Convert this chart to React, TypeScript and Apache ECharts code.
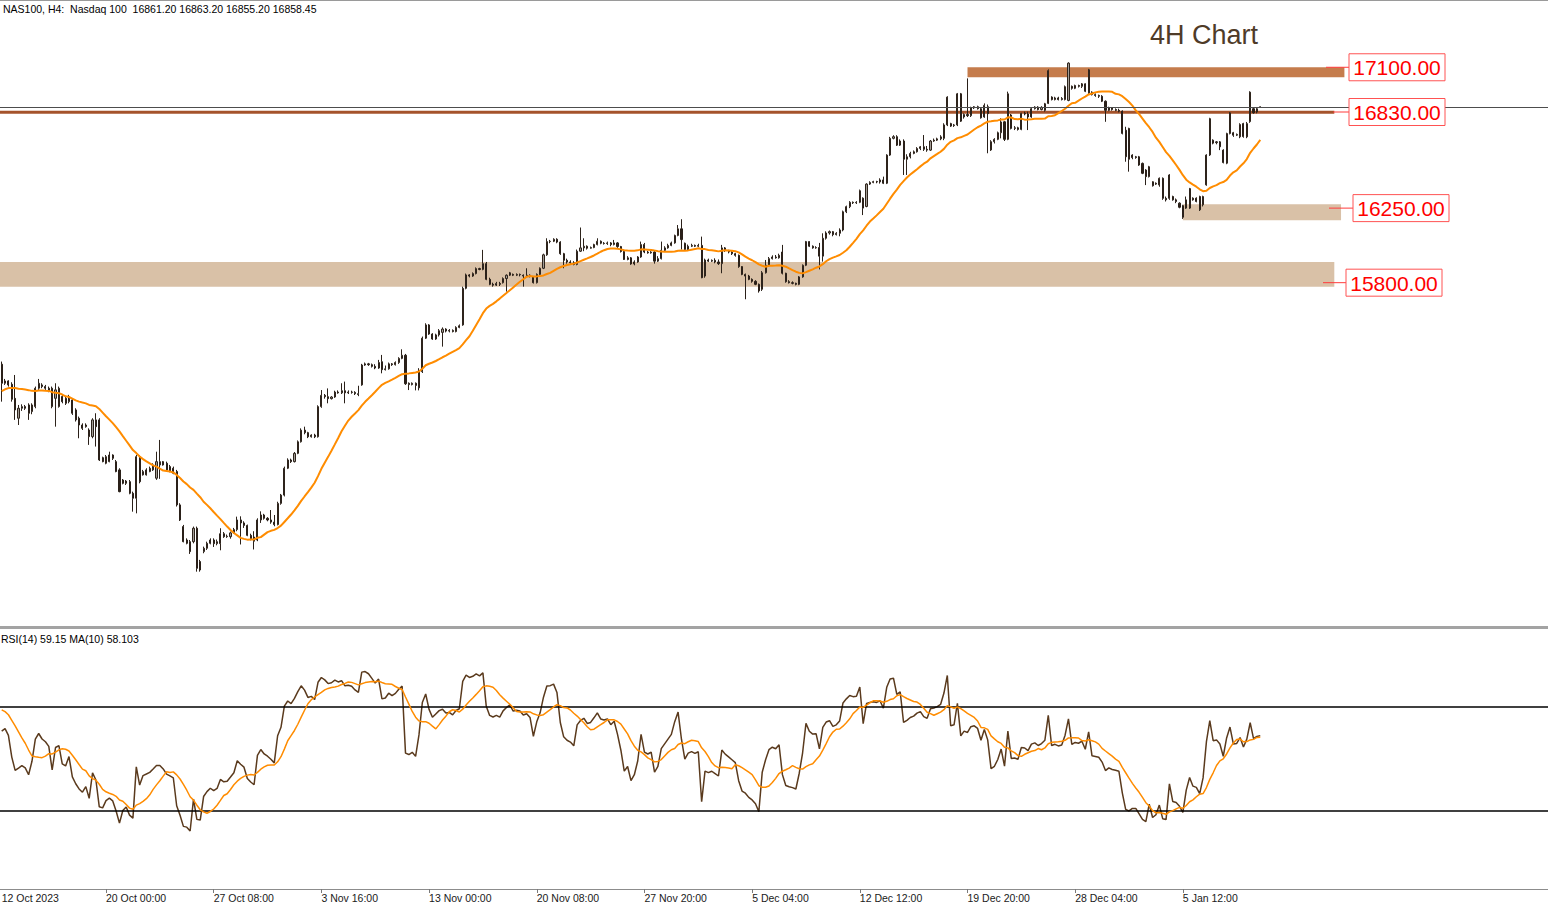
import React, { useEffect, useRef } from 'react';
import * as echarts from 'echarts';

// Closes before the first visible bar (only used to seed MA / RSI)
const priorCloses = [14780, 14740, 14700, 14690, 14850, 14930, 14960, 14930, 14990, 15010,
  15030, 15000, 15040, 15070, 15050, 15120, 15090, 15110, 15080, 15150,
  15170, 15130, 15180, 15200, 15160, 15210, 15230, 15200, 15250, 15290];

// NAS100 H4 candles: [open, close, low, high]
const candles: number[][] = [
  [15308,15193,15082,15324],[15193,15207,15183,15219],[15207,15183,15173,15211],[15187,15096,15082,15199],[15102,15032,14972,15243],
  [14982,15042,14941,15062],[15042,15052,15026,15066],[15052,15042,15032,15062],[15062,15012,14972,15072],[15022,15062,15006,15072],
  [15052,15163,15042,15173],[15163,15193,15153,15219],[15183,15173,15163,15193],[15173,15163,15153,15183],[15163,15147,15139,15173],
  [15163,15052,15042,15173],[15102,15153,14931,15193],[15052,15163,15046,15173],[15113,15082,15072,15123],[15102,15072,15062,15113],
  [15082,15113,15072,15123],[15092,15012,15002,15102],[15032,14972,14962,15042],[14982,14941,14861,14992],[14941,14921,14911,14951],
  [14931,14941,14925,14951],[14911,14871,14821,14921],[14871,14972,14861,14982],[14972,14931,14811,15012],[14972,14730,14724,14982],
  [14744,14720,14716,14750],[14710,14750,14704,14760],[14720,14760,14716,14780],[14760,14740,14730,14764],[14720,14660,14656,14730],
  [14670,14539,14535,14680],[14609,14589,14583,14615],[14589,14603,14579,14609],[14599,14529,14523,14609],[14529,14499,14418,14539],
  [14499,14750,14408,14760],[14750,14599,14589,14760],[14640,14660,14636,14670],[14640,14670,14636,14680],[14660,14680,14656,14690],
  [14670,14700,14664,14710],[14620,14720,14610,14780],[14700,14720,14616,14851],[14720,14700,14696,14724],[14710,14670,14664,14720],
  [14690,14660,14656,14700],[14680,14650,14644,14690],[14660,14459,14449,14670],[14459,14368,14362,14469],[14328,14237,14233,14338],
  [14247,14227,14221,14257],[14237,14177,14163,14247],[14237,14318,14227,14328],[14318,14076,14056,14328],[14117,14066,14056,14127],
  [14177,14197,14167,14207],[14197,14227,14187,14237],[14227,14247,14221,14257],
  [14247,14225,14205,14257],[14225,14237,14215,14250],[14225,14285,14185,14318],[14285,14267,14260,14295],[14267,14270,14260,14280],
  [14267,14290,14255,14298],[14290,14310,14285,14320],[14310,14368,14300,14388],[14368,14350,14220,14390],[14350,14335,14320,14360],
  [14335,14275,14270,14340],[14275,14255,14245,14285],[14265,14240,14190,14300],[14247,14368,14240,14378],[14368,14398,14350,14420],
  [14398,14378,14370,14405],[14378,14368,14360,14385],[14368,14355,14345,14428],[14355,14340,14330,14398],[14340,14468,14335,14478],
  [14468,14518,14460,14525],[14518,14680,14510,14690],[14680,14730,14675,14740],[14730,14720,14712,14738],[14720,14770,14715,14778],
  [14770,14840,14765,14848],[14840,14910,14835,14921],[14910,14895,14885,14931],[14895,14870,14862,14900],[14870,14880,14865,14885],
  [14880,14870,14862,14888],[14870,15052,14865,15060],[15052,15120,15045,15152],[15120,15112,15100,15128],[15112,15100,15072,15162],
  [15100,15110,15095,15115],[15110,15140,15105,15148],[15140,15135,15130,15150],[15135,15148,15128,15193],[15148,15135,15072,15203],
  [15135,15140,15128,15150],[15140,15138,15130,15148],[15138,15130,15122,15145],[15130,15125,15115,15178],[15183,15303,15178,15310],
  [15303,15310,15298,15318],[15310,15305,15298,15316],[15305,15295,15288,15312],[15295,15285,15278,15308],[15285,15318,15280,15334],
  [15323,15275,15253,15364],[15275,15280,15270,15300],[15280,15310,15275,15318],[15310,15305,15298,15315],[15305,15318,15300,15325],
  [15318,15343,15310,15350],[15343,15362,15338,15398],[15362,15190,15183,15370],[15193,15185,15152,15198],[15185,15193,15180,15198],
  [15193,15180,15150,15198],[15165,15263,15150,15284],
  [15263,15465,15255,15475],[15465,15545,15460,15555],[15545,15490,15485,15550],[15490,15460,15455,15495],[15460,15485,15455,15492],
  [15485,15510,15475,15520],[15500,15520,15414,15530],[15520,15508,15500,15525],[15508,15512,15500,15520],[15512,15505,15500,15518],
  [15505,15530,15500,15537],[15530,15540,15525,15548],[15545,15766,15540,15776],[15766,15847,15760,15855],[15847,15840,15832,15852],
  [15840,15855,15835,15862],[15855,15885,15850,15892],[15885,15880,15875,15890],[15880,15915,15875,15998],[15915,15820,15815,15925],
  [15820,15790,15785,15830],[15790,15785,15776,15800],[15785,15795,15780,15805],[15795,15790,15780,15805],[15800,15825,15795,15832],
  [15825,15845,15746,15850],[15845,15860,15840,15865],[15850,15845,15840,15855],[15845,15850,15840,15856],[15850,15848,15838,15855],
  [15845,15840,15776,15850],[15840,15845,15835,15887],[15845,15838,15832,15850],[15838,15800,15795,15840],[15800,15850,15795,15856],
  [15850,15887,15845,15892],[15887,15968,15882,15975],[15968,16048,15962,16068],[16048,16050,16038,16058],[16050,16062,16045,16068],
  [16062,16045,16038,16068],[16045,15975,15968,16050],[15975,15935,15887,15980],[15935,15925,15915,15945],[15925,15920,15915,15935],
  [15920,15910,15905,15930],[15910,15990,15905,16000],[15990,16010,15985,16133],[16010,16020,15990,16068],[16020,16008,16000,16025],
  [16008,16012,16005,16018],[16012,16030,16008,16035],[16030,16050,16025,16068],[16050,16038,16032,16055],[16038,16036,16030,16045],
  [16036,16040,16028,16048],[16040,16030,16020,16045],[16030,16040,16025,16058],[16040,16018,16010,16045],[16018,15988,15982,16022],
  [15988,15940,15937,15995],[15940,15950,15935,15960],[15950,15913,15908,15955],[15913,15925,15905,15935],[15925,15955,15920,15960],
  [15955,16030,15950,16048],[16030,15985,15978,16040],[15985,15980,15975,15992],[15980,15985,15975,15990],[15985,15930,15915,15990],
  [15930,15945,15925,15960],[15945,15995,15940,16048],[15995,16010,15990,16020],[16010,16025,16005,16035],[16025,16040,16020,16048],
  [16040,16085,16035,16090],[16085,16125,16080,16148],[16125,16060,16000,16183],[16038,16000,15995,16042],[16000,16020,15995,16030],
  [16020,16025,16015,16035],[16025,16020,16015,16030],[16020,16025,16015,16035],[16025,15830,15827,16078],[15840,15937,15830,15945],
  [15937,15930,15925,15945],[15930,15935,15925,15940],[15935,15925,15917,15947],[15925,15915,15907,15940],[15915,16010,15857,16028],
  [16010,15995,15985,16015],[15995,15985,15977,15998],[15985,15975,15967,15990],[15975,15965,15957,15980],[15965,15897,15890,15970],
  [15897,15850,15845,15900],[15850,15840,15700,15855],[15840,15820,15815,15847],[15820,15808,15800,15826],[15808,15790,15785,15815],
  [15790,15750,15740,15795],[15760,15860,15750,15870],[15860,15905,15855,15937],[15905,15945,15900,15955],[15945,15955,15940,15965],
  [15955,15950,15945,15967],[15950,15965,15945,15975],[15985,15857,15850,16028],[15857,15806,15800,15860],[15806,15800,15795,15815],
  [15800,15796,15790,15808],[15796,15790,15784,15800],[15790,15835,15785,15840],[15835,15905,15830,15910],[15905,16048,15900,16052],
  [16048,16020,16015,16050],[16020,16010,16005,16025],[16010,16012,16005,16020],[16012,15960,15880,16040],[15960,16068,15927,16098],
  [16068,16100,16060,16110],[16100,16108,16090,16115],[16108,16090,16080,16112],[16090,16098,16085,16105],[16098,16118,16080,16128],
  [16118,16228,16110,16235],[16228,16259,16220,16265],[16259,16285,16250,16292],[16285,16282,16275,16290],[16282,16285,16275,16292],
  [16285,16355,16280,16362],[16310,16250,16208,16315],[16260,16395,16255,16400],[16395,16405,16390,16412],[16405,16410,16400,16415],
  [16410,16408,16400,16415],[16408,16420,16398,16430],[16420,16400,16395,16440],[16400,16570,16395,16575],[16570,16671,16565,16680],
  [16671,16681,16665,16690],[16681,16630,16625,16690],[16630,16655,16625,16665],[16655,16545,16450,16665],[16545,16560,16450,16575],
  [16560,16580,16550,16590],[16580,16590,16575,16598],[16590,16610,16585,16618],[16610,16620,16600,16625],[16620,16605,16595,16691],
  [16605,16600,16590,16625],[16600,16655,16595,16661],[16655,16660,16650,16670],[16660,16668,16655,16675],[16668,16680,16660,16690],
  [16671,16752,16660,16762],[16752,16920,16745,16925],[16760,16745,16740,16765],[16748,16752,16740,16758],[16752,16940,16745,16945],
  [16940,16775,16770,16945],[16800,16815,16790,16822],[16815,16808,16800,17033],[16808,16855,16800,16862],[16855,16862,16848,16866],
  [16862,16850,16845,16868],[16850,16795,16790,16855],[16800,16870,16795,16882],[16862,16820,16581,16875],[16601,16651,16595,16660],
  [16651,16665,16640,16672],[16665,16705,16660,16712],[16705,16770,16671,16792],[16771,16665,16655,16775],[16665,16940,16660,16953],
  [16812,16731,16725,16818],[16731,16735,16721,16745],[16735,16725,16718,16741],[16725,16822,16720,16825],[16822,16818,16810,16832],
  [16818,16800,16721,16832],[16800,16850,16795,16855],[16850,16860,16845,16865],[16860,16845,16840,16865],[16845,16858,16840,16865],
  [16840,16880,16832,16885],[16882,17080,16878,17087],[16920,16905,16900,16925],[16905,16915,16900,16922],[16915,16905,16900,16922],
  [16905,16912,16900,16920],[16905,16983,16900,16990],[16900,17125,16895,17130],[16985,16973,16965,16990],[16973,16990,16968,16995],
  [16990,16985,16978,16995],[16985,17000,16975,17005],[17000,16955,16950,17003],[16945,17085,16940,17090],[16950,16935,16930,16955],
  [16935,16930,16922,16942],[16930,16925,16915,16935],[16925,16895,16890,16932],[16895,16840,16771,16900],[16840,16855,16835,16862],
  [16855,16845,16838,16858],[16845,16840,16835,16852],[16840,16835,16828,16850],[16835,16701,16695,16840],[16720,16560,16530,16741],
  [16731,16545,16470,16735],[16570,16555,16545,16575],[16560,16555,16548,16565],[16560,16510,16505,16565],[16520,16460,16455,16525],
  [16480,16440,16389,16485],[16440,16500,16435,16505],[16409,16385,16380,16412],[16400,16395,16390,16405],[16390,16430,16379,16435],
  [16430,16309,16300,16435],[16309,16300,16290,16320],[16309,16450,16300,16455],[16320,16300,16295,16325],[16300,16290,16280,16308],
  [16280,16255,16249,16285],[16265,16195,16185,16270],[16250,16300,16245,16320],[16250,16368,16245,16372],[16310,16300,16295,16315],
  [16310,16290,16285,16315],[16320,16240,16233,16325],[16270,16320,16260,16325],[16390,16570,16385,16575],[16571,16790,16565,16795],
  [16660,16642,16635,16665],[16645,16650,16635,16655],[16650,16620,16600,16655],[16600,16525,16520,16605],[16521,16700,16515,16705],
  [16700,16825,16695,16830],[16705,16690,16680,16710],[16690,16695,16685,16700],[16680,16755,16672,16762],[16760,16682,16675,16765],
  [16680,16760,16672,16770],[16772,16950,16765,16955],[16850,16825,16820,16856],[16830,16850,16822,16860],[16861.2,16858.45,16855.2,16863.2],
];

const firstTickLabel = '12 Oct 2023';
const tickLabels = ['20 Oct 00:00', '27 Oct 08:00', '3 Nov 16:00', '13 Nov 00:00', '20 Nov 08:00', '27 Nov 20:00',
  '5 Dec 04:00', '12 Dec 12:00', '19 Dec 20:00', '28 Dec 04:00', '5 Jan 12:00'];

const levelPrices = [17100, 16830, 16250, 15800];
const levelLabels = ['17100.00', '16830.00', '16250.00', '15800.00'];
const zoneHigh = [17100, 16838, 16273, 15925];
const zoneLow = [17040, 16820, 16177, 15776];
const rsiBands = [70, 30];

const chartHeader = 'NAS100, H4:  Nasdaq 100  16861.20 16863.20 16855.20 16858.45';
const rsiHeader = 'RSI(14) 59.15 MA(10) 58.103';
const chartTitle = '4H Chart';

// ---- layout ----
const W = 1548;
const TOTAL_SLOTS = 460;
const BARS_PER_TICK = 32;
const zoneStartSlot: (number | null)[] = [287, null, 351, null];
const zoneEndSlot = [399, 396, 398, 396];
const zoneColor = ['#c57c4c', '#a5532b', '#d9c1a7', '#d9c1a7'];
const boxX = [1349, 1349, 1353, 1346];
const connectorX = [1326, 1333, 1329, 1323];
const FONT = '"Liberation Sans", Arial, sans-serif';

function sma(values: (number | null)[], n: number): (number | null)[] {
  return values.map((_, i) => {
    if (i < n - 1) return null;
    let s = 0;
    for (let j = i - n + 1; j <= i; j++) {
      const v = values[j];
      if (v == null) return null;
      s += v;
    }
    return s / n;
  });
}

function wilderRsi(cl: number[], n: number): (number | null)[] {
  const out: (number | null)[] = cl.map(() => null);
  let g = 0, l = 0;
  for (let i = 1; i <= n; i++) {
    const d = cl[i] - cl[i - 1];
    if (d > 0) g += d; else l -= d;
  }
  g /= n; l /= n;
  out[n] = l === 0 ? 100 : 100 - 100 / (1 + g / l);
  for (let i = n + 1; i < cl.length; i++) {
    const d = cl[i] - cl[i - 1];
    g = (g * (n - 1) + Math.max(d, 0)) / n;
    l = (l * (n - 1) + Math.max(-d, 0)) / n;
    out[i] = l === 0 ? 100 : 100 - 100 / (1 + g / l);
  }
  return out;
}

export default function App() {
  const ref = useRef<HTMLDivElement>(null);

  useEffect(() => {
    const el = ref.current;
    if (!el) return;
    const chart = echarts.init(el, null, { renderer: 'svg' });

    const closes = priorCloses.concat(candles.map((c) => c[1]));
    const skip = priorCloses.length;
    const ma = sma(closes, 20).slice(skip);
    const rsiAll = wilderRsi(closes, 14);
    const rsiMa = sma(rsiAll, 10).slice(skip);
    const rsiVis = rsiAll.slice(skip);
    const lastClose = candles[candles.length - 1][1];

    const cats = Array.from({ length: TOTAL_SLOTS }, (_, k) => String(k));
    const isTick = (k: number) => (k + 1) % BARS_PER_TICK === 0 && (k + 1) / BARS_PER_TICK <= tickLabels.length;
    const labelFor = (k: number) => (k === 0 ? firstTickLabel : isTick(k) ? tickLabels[(k + 1) / BARS_PER_TICK - 1] : '');

    const zones = zoneHigh.map((hi, j) => {
      const a: any = { yAxis: hi, itemStyle: { color: zoneColor[j] } };
      if (zoneStartSlot[j] != null) a.xAxis = zoneStartSlot[j];
      return [a, { yAxis: zoneLow[j], xAxis: zoneEndSlot[j] }];
    });

    chart.setOption({
      animation: false,
      backgroundColor: '#ffffff',
      grid: [
        { left: 0, top: 0, width: W, height: 627, outerBoundsMode: 'none' },
        { left: 0, top: 629, width: W, height: 260, outerBoundsMode: 'none' },
      ],
      xAxis: [
        {
          type: 'category', gridIndex: 0, data: cats, boundaryGap: true,
          axisLine: { show: false }, axisTick: { show: false }, axisLabel: { show: false }, splitLine: { show: false },
        },
        {
          type: 'category', gridIndex: 1, data: cats, boundaryGap: true,
          axisLine: { show: true, lineStyle: { color: '#8c8c8c', width: 1 } },
          axisTick: { show: true, alignWithLabel: true, interval: (k: number) => isTick(k), length: 4, lineStyle: { color: '#7a7a7a' } },
          axisLabel: {
            show: true, interval: (k: number) => k === 0 || isTick(k), formatter: (_v: string, k: number) => labelFor(k),
            align: 'left', margin: 3, color: '#1a1a1a', fontFamily: FONT, fontSize: 10.5, hideOverlap: false,
          },
          splitLine: { show: false },
        },
      ],
      yAxis: [
        { type: 'value', gridIndex: 0, min: 13722, max: 17506, show: false, splitLine: { show: false } },
        { type: 'value', gridIndex: 1, min: 0, max: 100, show: false, splitLine: { show: false } },
      ],
      series: [
        {
          type: 'candlestick', name: 'NAS100', xAxisIndex: 0, yAxisIndex: 0, data: candles, z: 3,
          barWidth: 1.6, silent: true,
          itemStyle: { color: '#a29c95', color0: '#2a2019', borderColor: '#2e241c', borderColor0: '#2a2019', borderWidth: 1 },
          markArea: { silent: true, z: 1, data: zones },
          markLine: {
            silent: true, symbol: ['none', 'none'], label: { show: false },
            lineStyle: { color: '#4d4d4d', width: 1, type: 'solid' }, data: [{ yAxis: lastClose }],
          },
        },
        {
          type: 'line', name: 'MA', xAxisIndex: 0, yAxisIndex: 0, data: ma, z: 4, silent: true,
          showSymbol: false, symbol: 'none', lineStyle: { color: '#ff8c00', width: 2 },
        },
        {
          type: 'line', name: 'RSI', xAxisIndex: 1, yAxisIndex: 1, data: rsiVis, z: 4, silent: true,
          showSymbol: false, symbol: 'none', lineStyle: { color: '#5a3a1d', width: 1.5 },
          markLine: {
            silent: true, symbol: ['none', 'none'], label: { show: false },
            lineStyle: { color: '#000000', width: 1.5, type: 'solid' },
            data: rsiBands.map((v) => ({ yAxis: v })),
          },
        },
        {
          type: 'line', name: 'RSI MA', xAxisIndex: 1, yAxisIndex: 1, data: rsiMa, z: 5, silent: true,
          showSymbol: false, symbol: 'none', lineStyle: { color: '#ff8c00', width: 1.5 },
        },
      ],
    });

    const graphics: any[] = [
      { type: 'line', silent: true, shape: { x1: 0, y1: 0.5, x2: W, y2: 0.5 }, style: { stroke: '#9a9a9a', lineWidth: 1 } },
      { type: 'rect', silent: true, shape: { x: 0, y: 626, width: W, height: 3 }, style: { fill: '#a3a3a3' } },
      { type: 'text', silent: true, x: 3, y: 8.5, style: { text: chartHeader, font: `10.5px ${FONT}`, fill: '#000', verticalAlign: 'middle' } },
      { type: 'text', silent: true, x: 1, y: 639, style: { text: rsiHeader, font: `10.5px ${FONT}`, fill: '#000', verticalAlign: 'middle' } },
      { type: 'text', silent: true, x: 1150, y: 35, style: { text: chartTitle, font: `27px ${FONT}`, fill: '#4f3b28', verticalAlign: 'middle' } },
    ];
    levelPrices.forEach((p, j) => {
      const y = chart.convertToPixel({ yAxisIndex: 0 }, p) as number;
      graphics.push({ type: 'line', silent: true, z: 10, shape: { x1: connectorX[j], y1: y, x2: boxX[j], y2: y }, style: { stroke: '#ff3b3b', lineWidth: 1 } });
      graphics.push({ type: 'rect', silent: true, z: 10, shape: { x: boxX[j], y: y - 13.5, width: 96, height: 27 }, style: { fill: '#ffffff', stroke: '#ff5252', lineWidth: 1 } });
      graphics.push({ type: 'text', silent: true, z: 11, x: boxX[j] + 48, y: y + 0.5, style: { text: levelLabels[j], font: `21px ${FONT}`, fill: '#ff0000', align: 'center', verticalAlign: 'middle' } });
    });
    chart.setOption({ graphic: graphics });

    return () => chart.dispose();
  }, []);

  return <div ref={ref} style={{ position: 'fixed', left: 0, top: 0, width: W, height: 907, background: '#fff' }} />;
}
